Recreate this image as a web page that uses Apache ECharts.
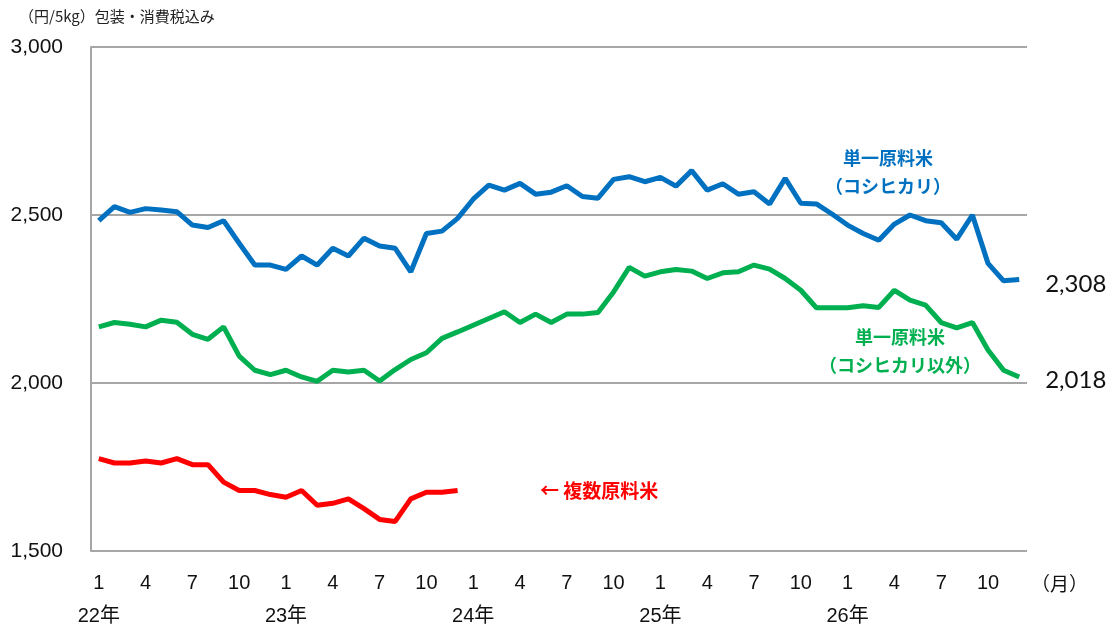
<!DOCTYPE html>
<html>
<head>
<meta charset="utf-8">
<script src="https://cdn.jsdelivr.net/npm/echarts@6/dist/echarts.min.js"></script>
<style>
html,body{margin:0;padding:0;background:#fff;}
#c{width:1111px;height:630px;}
</style>
</head>
<body>
<div id="c"></div>
<script>
// Categories: months from 2022/1 to 2026/12
const years = ['22', '23', '24', '25', '26'];
const months = [1,2,3,4,5,6,7,8,9,10,11,12];
const categories = [];
years.forEach(y => months.forEach(m => categories.push(y + '/' + m)));

const yTicks = [1500, 2000, 2500, 3000];

const koshihikari = [
  2483, 2525, 2508, 2519, 2515, 2510, 2470, 2463, 2483, 2416, 2351, 2351,
  2338, 2378, 2351, 2401, 2378, 2431, 2408, 2401, 2331, 2445, 2452, 2490,
  2547, 2589, 2574, 2594, 2562, 2568, 2587, 2555, 2550, 2606, 2614, 2599,
  2612, 2586, 2632, 2574, 2593, 2562, 2569, 2533, 2609, 2535, 2533, 2503,
  2470, 2445, 2425, 2473, 2500, 2483, 2477, 2428, 2500, 2356, 2304, 2308
];
const otherSingle = [
  2167, 2180, 2175, 2167, 2187, 2181, 2145, 2130, 2167, 2080, 2038, 2025,
  2038, 2018, 2005, 2038, 2033, 2038, 2006, 2040, 2070, 2090, 2133, 2152,
  2172, 2192, 2212, 2180, 2205, 2180, 2205, 2205, 2210, 2271, 2344, 2318,
  2331, 2338, 2333, 2311, 2328, 2331, 2351, 2339, 2311, 2276, 2224, 2224,
  2224, 2230, 2225, 2276, 2247, 2232, 2180, 2164, 2180, 2098, 2038, 2018
];
const blended = [
  1775, 1762, 1762, 1768, 1762, 1775, 1757, 1757, 1705, 1680, 1680, 1668,
  1660, 1680, 1636, 1642, 1655, 1626, 1594, 1588, 1655, 1675, 1675, 1680
];

const chart = echarts.init(document.getElementById('c'));
const numFont = "'Liberation Sans', 'Noto Sans CJK JP', sans-serif";
const jpFont = "'Noto Sans CJK JP', sans-serif";
const grey = '#A6A6A6';

chart.setOption({
  animation: false,
  backgroundColor: '#ffffff',
  title: {
    text: '（円/5kg）包装・消費税込み',
    left: 14, top: 4,
    textStyle: { fontFamily: jpFont, fontSize: 15, fontWeight: 'normal', color: '#222' }
  },
  grid: { left: 91, right: 84, top: 47, bottom: 79, containLabel: false, outerBoundsMode: 'none' },
  xAxis: {
    type: 'category',
    data: categories,
    boundaryGap: true,
    axisLine: { show: false },
    axisTick: { show: false },
    axisLabel: {
      interval: 0,
      margin: 16,
      color: '#111',
      fontFamily: numFont,
      fontSize: 20,
      lineHeight: 33,
      formatter: function (v) {
        const p = v.split('/');
        const m = +p[1];
        if (m === 1) return m + '\n' + p[0] + '年';
        if (m === 4 || m === 7 || m === 10) return String(m);
        return '';
      }
    }
  },
  yAxis: {
    type: 'value',
    min: yTicks[0], max: yTicks[yTicks.length - 1], interval: 500,
    axisLine: { show: true, lineStyle: { color: grey, width: 2 } },
    axisTick: { show: false },
    splitLine: { lineStyle: { color: grey, width: 2 } },
    axisLabel: {
      margin: 28,
      color: '#111',
      fontFamily: numFont,
      fontSize: 21,
      formatter: v => v.toLocaleString('en-US')
    }
  },
  series: [
    {
      name: '単一原料米（コシヒカリ）',
      type: 'line',
      data: koshihikari,
      symbol: 'none',
      lineStyle: { color: '#0070C0', width: 5 },
      itemStyle: { color: '#0070C0' },
      endLabel: {
        show: true, distance: 26, offset: [0, 5],
        color: '#111', fontFamily: "Lato, 'Liberation Sans', sans-serif", fontSize: 24,
        formatter: p => p.value.toLocaleString('en-US')
      }
    },
    {
      name: '単一原料米（コシヒカリ以外）',
      type: 'line',
      data: otherSingle,
      symbol: 'none',
      lineStyle: { color: '#00B050', width: 5 },
      itemStyle: { color: '#00B050' },
      endLabel: {
        show: true, distance: 26, offset: [0, 3],
        color: '#111', fontFamily: "Lato, 'Liberation Sans', sans-serif", fontSize: 24,
        formatter: p => p.value.toLocaleString('en-US')
      }
    },
    {
      name: '複数原料米',
      type: 'line',
      data: blended,
      symbol: 'none',
      lineStyle: { color: '#FF0000', width: 5 },
      itemStyle: { color: '#FF0000' }
    }
  ],
  graphic: [
    { type: 'text', left: 1031, top: 574,
      style: { text: '（月）', font: "19px 'Noto Sans CJK JP'", fill: '#111' } },
    { type: 'text', x: 888, y: 158,
      style: { text: '単一原料米', font: "bold 18px 'Noto Sans CJK JP'", fill: '#0070C0', align: 'center', verticalAlign: 'middle' } },
    { type: 'text', x: 888, y: 186,
      style: { text: '（コシヒカリ）', font: "bold 18px 'Noto Sans CJK JP'", fill: '#0070C0', align: 'center', verticalAlign: 'middle' } },
    { type: 'text', x: 900, y: 337,
      style: { text: '単一原料米', font: "bold 18px 'Noto Sans CJK JP'", fill: '#00B050', align: 'center', verticalAlign: 'middle' } },
    { type: 'text', x: 900, y: 365,
      style: { text: '（コシヒカリ以外）', font: "bold 18px 'Noto Sans CJK JP'", fill: '#00B050', align: 'center', verticalAlign: 'middle' } },
    { type: 'text', x: 540, y: 491,
      style: { text: '← 複数原料米', font: "bold 19px 'Noto Sans CJK JP'", fill: '#FF0000', align: 'left', verticalAlign: 'middle' } }
  ]
});
</script>
</body>
</html>
